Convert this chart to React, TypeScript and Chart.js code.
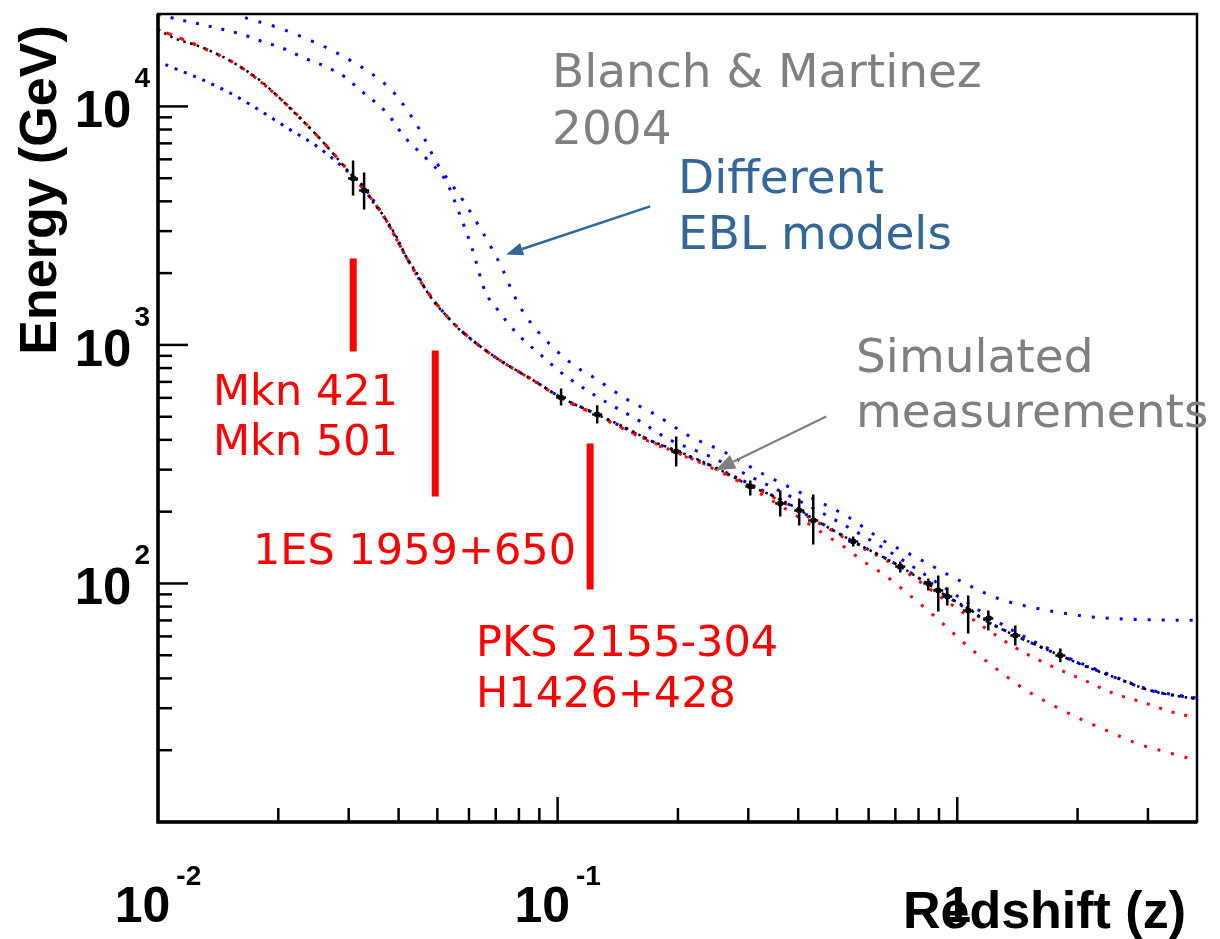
import React, { useEffect, useRef } from "react";
import { Chart, registerables } from "chart.js";

Chart.register(...registerables);

// ---------------- data ----------------
// main model curve (black dotted)
const mainZ = [0.0100, 0.0110, 0.0127, 0.0143, 0.0160, 0.0180, 0.0202, 0.0227, 0.0254, 0.0281, 0.0306, 0.0326, 0.0340, 0.0366, 0.0397, 0.0420, 0.0445, 0.0466, 0.0494, 0.0529, 0.0564, 0.0604, 0.0651, 0.0718, 0.0774, 0.0868, 0.102, 0.1256, 0.1493, 0.1704, 0.198, 0.2507, 0.3016, 0.3564, 0.4022, 0.4361, 0.549, 0.720, 0.841, 0.944, 1.065, 1.189, 1.397, 1.811, 2.068, 2.515, 3.041, 3.98];
const mainE = [21000, 19300, 17850, 16360, 14720, 12850, 10800, 8900, 7340, 6050, 5140, 4620, 4110, 3490, 2800, 2305, 1994, 1725, 1493, 1317, 1173, 1065, 967, 861, 797, 712, 602, 511, 447, 398, 361, 303.5, 257.6, 227, 204, 187, 150, 117.8, 100, 88.2, 78.6, 69.3, 60.5, 49.9, 45.3, 40.0, 35.6, 32.7];

// red model curves
const redAZ = [0.0100, 0.0127, 0.0160, 0.0202, 0.0254, 0.0306, 0.0366, 0.0420, 0.0466, 0.0529, 0.0604, 0.0718, 0.0868, 0.102, 0.1256, 0.1704, 0.2507, 0.3564, 0.4361, 0.549, 0.720, 0.944, 1.231, 1.381, 1.709, 2.115, 2.458, 2.871, 3.554, 3.98];
const redAE = [21000, 17850, 14720, 10800, 7340, 5140, 3490, 2305, 1725, 1317, 1065, 861, 712, 600, 508, 395, 300, 224, 185, 148, 115.6, 84.0, 61.7, 54.4, 45.3, 38.8, 34.6, 32.0, 28.5, 27.4];
const redBZ = [0.0100, 0.0127, 0.0160, 0.0202, 0.0254, 0.0306, 0.0366, 0.0420, 0.0466, 0.0529, 0.0604, 0.0718, 0.0868, 0.102, 0.1256, 0.1704, 0.2507, 0.3213, 0.4164, 0.454, 0.5154, 0.5818, 0.6604, 0.7943, 0.8911, 1.065, 1.259, 1.463, 1.739, 2.068, 2.458, 2.871, 3.355, 3.98];
const redBE = [21000, 17850, 14720, 10800, 7340, 5140, 3490, 2305, 1725, 1317, 1065, 861, 710, 598, 505, 392, 298, 238, 182, 165, 144, 124, 108, 84, 71.3, 54.4, 43.6, 36.3, 30.8, 26.7, 23.5, 21.1, 19.6, 18.1];

// blue model curves
const blueDZ = [0.0100, 0.01116, 0.01252, 0.01472, 0.01699, 0.02115, 0.0250, 0.02905, 0.0326, 0.0366, 0.0420, 0.0466, 0.0529, 0.0604, 0.0718, 0.0868, 0.102, 0.1256, 0.1704, 0.2507, 0.3564, 0.4361, 0.549, 0.720, 0.944, 1.189, 1.397, 1.811, 2.515, 3.041, 3.98];
const blueDE = [15440, 14290, 13230, 11670, 10200, 8088, 6795, 5550, 4620, 3490, 2305, 1725, 1317, 1065, 861, 712, 602, 511, 398, 303.5, 227, 187, 150, 117.8, 88.2, 69.3, 60.5, 49.9, 40.0, 35.6, 32.9];
const blue1Z = [0.0100, 0.01155, 0.01349, 0.01623, 0.01821, 0.02055, 0.02333, 0.02618, 0.02972, 0.03148, 0.03765, 0.04106, 0.04741, 0.0526, 0.05701, 0.06109, 0.06585, 0.06976, 0.07917, 0.09413, 0.0997, 0.1241, 0.1609, 0.1879, 0.2408, 0.3034, 0.4046, 0.5398, 0.7198, 0.9605, 1.281, 1.811, 2.515, 3.041, 3.98];
const blue1E = [24300, 22940, 21650, 20040, 18730, 17510, 15890, 14720, 13100, 12010, 9257, 7558, 5937, 4848, 3491, 2539, 1676, 1450, 1117, 861, 789, 614, 478, 405.5, 340.7, 281, 220.7, 170.1, 127.3, 92.6, 68.0, 50.5, 40.3, 35.8, 33.0];
const blue2Z = [0.01532, 0.01699, 0.01853, 0.02055, 0.02374, 0.02726, 0.03659, 0.03965, 0.04527, 0.04993, 0.0580, 0.06145, 0.06776, 0.07303, 0.07738, 0.08244, 0.09744, 0.1138, 0.122, 0.1476, 0.1754, 0.2146, 0.2596, 0.325, 0.3999, 0.5305, 0.6528, 0.7989, 0.9886, 1.266, 1.586, 2.115, 2.871, 3.98];
const blue2E = [24800, 23160, 22280, 21030, 19100, 17170, 12610, 11010, 7933, 5768, 4036, 3457, 2615, 2053, 1644, 1355, 976, 789, 738, 597, 511, 413, 357.6, 289, 243, 190.9, 151.4, 127.3, 105, 86.5, 78.6, 72.7, 70.6, 70.0];

// simulated measurements with error bars
const errZ = [0.03077, 0.03279, 0.102, 0.1256, 0.198, 0.3034, 0.3606, 0.4022, 0.4361, 0.549, 0.720, 0.8463, 0.8963, 0.9441, 1.065, 1.196, 1.397, 1.811];
const errE = [4990, 4444, 602, 511, 357.6, 255.1, 216.4, 202.4, 183.7, 150, 117.8, 100, 93.5, 88.2, 77.0, 71.3, 60.5, 49.9];
const errLo = [4233, 3699, 557.6, 468.7, 309.4, 233.9, 190.9, 175, 145.7, 142.9, 111.2, 93.5, 76.3, 80.9, 61.7, 63.5, 55.0, 46.7];
const errHi = [5937, 5289, 657, 558, 413, 270.3, 245.4, 227.2, 236, 157.4, 123.7, 105, 108, 96.2, 89.1, 77.0, 66.7, 53.4];

// source redshift markers (red bars)
const barZ = [0.0308, 0.0494, 0.1206];
const barLo = [939, 231.6, 94.4];
const barHi = [2305, 948, 386.4];

// arrows (tail -> head) in data units
const arrowTailZ = [0.1704, 0.470];
const arrowTailE = [3808, 501];
const arrowHeadZ = [0.0743, 0.2479];
const arrowHeadE = [2396, 297.7];

// axes
const X_MIN = 0.01;
const X_MAX = 3.98;
const Y_MIN = 10;
const Y_MAX = 24400;
const xTicks = [0.02, 0.03, 0.04, 0.05, 0.06, 0.07, 0.08, 0.09, 0.1, 0.2, 0.3, 0.4, 0.5, 0.6, 0.7, 0.8, 0.9, 1, 2, 3];
const xMajor = [0.01, 0.1];
const xMajorExp = ["-2", "-1"];
const yTicks = [20, 30, 40, 50, 60, 70, 80, 90, 100, 200, 300, 400, 500, 600, 700, 800, 900, 1000, 2000, 3000, 4000, 5000, 6000, 7000, 8000, 9000, 10000];
const yMajor = [100, 1000, 10000];
const yMajorExp = ["2", "3", "4"];

const GRAY = "#808080";
const BLUE_TXT = "#336699";
const RED = "#ff0000";
const AX_FONT = "'Liberation Sans', Arial, sans-serif";
const TXT_FONT = "'DejaVu Sans', Verdana, sans-serif";

const textBlocks = [
  { lines: ["Blanch & Martinez", "2004"], x: 552, y: 87, color: GRAY, size: 47, lh: 57 },
  { lines: ["Different", "EBL models"], x: 678, y: 193, color: BLUE_TXT, size: 47, lh: 56 },
  { lines: ["Simulated", "measurements"], x: 856, y: 372, color: GRAY, size: 47, lh: 55 },
  { lines: ["Mkn 421", "Mkn 501"], x: 213, y: 405, color: RED, size: 43, lh: 50 },
  { lines: ["1ES 1959+650"], x: 253, y: 564, color: RED, size: 43, lh: 50 },
  { lines: ["PKS 2155-304", "H1426+428"], x: 476, y: 656, color: RED, size: 43, lh: 51 },
];

const pts = (xs: number[], ys: number[]) => xs.map((x, i) => ({ x, y: ys[i] }));

function drawArrow(ctx: CanvasRenderingContext2D, x1: number, y1: number, x2: number, y2: number, color: string, lw: number, hl: number, hw: number) {
  const ang = Math.atan2(y2 - y1, x2 - x1);
  const bx = x2 - hl * Math.cos(ang);
  const by = y2 - hl * Math.sin(ang);
  ctx.strokeStyle = color;
  ctx.fillStyle = color;
  ctx.lineWidth = lw;
  ctx.beginPath();
  ctx.moveTo(x1, y1);
  ctx.lineTo(bx, by);
  ctx.stroke();
  ctx.beginPath();
  ctx.moveTo(x2, y2);
  ctx.lineTo(bx + (hw / 2) * Math.sin(ang), by - (hw / 2) * Math.cos(ang));
  ctx.lineTo(bx - (hw / 2) * Math.sin(ang), by + (hw / 2) * Math.cos(ang));
  ctx.closePath();
  ctx.fill();
}

const errorBarPlugin = {
  id: "errorBars",
  afterDatasetsDraw(chart: any) {
    const { ctx, scales } = chart;
    const xs = scales.x;
    const ys = scales.y;
    ctx.save();
    ctx.strokeStyle = "#000";
    ctx.fillStyle = "#000";
    ctx.lineWidth = 2.5;
    for (let i = 0; i < errZ.length; i++) {
      const px = xs.getPixelForValue(errZ[i]);
      const py = ys.getPixelForValue(errE[i]);
      const pLo = ys.getPixelForValue(errLo[i]);
      const pHi = ys.getPixelForValue(errHi[i]);
      ctx.beginPath();
      ctx.moveTo(px, pHi);
      ctx.lineTo(px, pLo);
      ctx.moveTo(px - 5, py);
      ctx.lineTo(px + 5, py);
      ctx.stroke();
      ctx.fillRect(px - 2.5, py - 2.5, 5, 5);
    }
    ctx.restore();
  },
};

const decorPlugin = {
  id: "decor",
  afterDraw(chart: any) {
    const { ctx, chartArea: ca, scales } = chart;
    const xs = scales.x;
    const ys = scales.y;
    ctx.save();

    // red source bars
    ctx.strokeStyle = RED;
    ctx.lineWidth = 7;
    for (let i = 0; i < barZ.length; i++) {
      const px = xs.getPixelForValue(barZ[i]);
      ctx.beginPath();
      ctx.moveTo(px, ys.getPixelForValue(barHi[i]));
      ctx.lineTo(px, ys.getPixelForValue(barLo[i]));
      ctx.stroke();
    }

    // arrows
    drawArrow(ctx, xs.getPixelForValue(arrowTailZ[0]), ys.getPixelForValue(arrowTailE[0]), xs.getPixelForValue(arrowHeadZ[0]), ys.getPixelForValue(arrowHeadE[0]), BLUE_TXT, 2.5, 17, 13);
    drawArrow(ctx, xs.getPixelForValue(arrowTailZ[1]), ys.getPixelForValue(arrowTailE[1]), xs.getPixelForValue(arrowHeadZ[1]), ys.getPixelForValue(arrowHeadE[1]), GRAY, 2.2, 20, 15);

    // frame
    ctx.strokeStyle = "#000";
    ctx.lineWidth = 2.5;
    ctx.strokeRect(ca.left, ca.top, ca.right - ca.left, ca.bottom - ca.top);
    ctx.lineWidth = 3.5;
    ctx.beginPath();
    ctx.moveTo(ca.left, ca.top);
    ctx.lineTo(ca.left, ca.bottom);
    ctx.lineTo(ca.right, ca.bottom);
    ctx.stroke();

    // y ticks
    ctx.lineWidth = 2.5;
    for (const v of yTicks) {
      const py = ys.getPixelForValue(v);
      const major = yMajor.includes(v);
      ctx.beginPath();
      ctx.moveTo(ca.left, py);
      ctx.lineTo(ca.left + (major ? 30 : 14), py);
      ctx.stroke();
    }
    // x ticks
    for (const v of xTicks) {
      const px = xs.getPixelForValue(v);
      const major = v === 0.1 || v === 1;
      ctx.beginPath();
      ctx.moveTo(px, ca.bottom);
      ctx.lineTo(px, ca.bottom - (major ? 25 : 14));
      ctx.stroke();
    }

    // y labels
    ctx.fillStyle = "#000";
    ctx.textBaseline = "alphabetic";
    for (let i = 0; i < yMajor.length; i++) {
      const py = ys.getPixelForValue(yMajor[i]);
      ctx.font = `bold 28px ${AX_FONT}`;
      ctx.textAlign = "right";
      const sw = ctx.measureText(yMajorExp[i]).width;
      ctx.fillText(yMajorExp[i], ca.left - 8, py - 19);
      ctx.font = `bold 51px ${AX_FONT}`;
      ctx.fillText("10", ca.left - 8 - sw - 3, py + 21);
    }
    // x labels
    for (let i = 0; i < xMajor.length; i++) {
      const px = xs.getPixelForValue(xMajor[i]);
      ctx.font = `bold 50px ${AX_FONT}`;
      ctx.textAlign = "left";
      const bw = ctx.measureText("10").width;
      ctx.font = `bold 28px ${AX_FONT}`;
      const ew = ctx.measureText(xMajorExp[i]).width;
      const start = px - (bw + 6 + ew) / 2;
      ctx.fillText(xMajorExp[i], start + bw + 6, 885);
      ctx.font = `bold 50px ${AX_FONT}`;
      ctx.fillText("10", start, 922);
    }
    ctx.font = `bold 50px ${AX_FONT}`;
    ctx.textAlign = "center";
    ctx.fillText("1", xs.getPixelForValue(1), 922);

    // axis titles
    ctx.font = `bold 52px ${AX_FONT}`;
    ctx.textAlign = "right";
    ctx.fillText("Redshift (z)", 1186, 928);
    ctx.save();
    ctx.translate(56, 190);
    ctx.rotate(-Math.PI / 2);
    ctx.textAlign = "center";
    ctx.fillText("Energy (GeV)", 0, 0);
    ctx.restore();

    // annotation texts
    ctx.textAlign = "left";
    for (const b of textBlocks) {
      ctx.font = `${b.size}px ${TXT_FONT}`;
      ctx.fillStyle = b.color;
      b.lines.forEach((l, k) => ctx.fillText(l, b.x, b.y + k * b.lh));
    }
    ctx.restore();
  },
};

export default function App() {
  const ref = useRef<HTMLCanvasElement | null>(null);
  useEffect(() => {
    if (!ref.current) return;
    const line = (data: any[], color: string, width: number, dash: number[], order: number, offset = 0) => ({
      data,
      showLine: true,
      borderColor: color,
      borderWidth: width,
      borderDash: dash,
      borderDashOffset: offset,
      pointRadius: 0,
      fill: false,
      cubicInterpolationMode: "monotone",
      order,
    });
    const chart = new Chart(ref.current, {
      type: "scatter",
      data: {
        datasets: [
          line(pts(blue2Z, blue2E), "#0000ff", 3, [3, 11], 7),
          line(pts(blue1Z, blue1E), "#0000ff", 3, [3, 10], 6),
          line(pts(blueDZ, blueDE), "#0000ff", 3, [3, 7], 5, 2),
          line(pts(redBZ, redBE), "#ff0000", 3, [3, 11], 4, 5),
          line(pts(redAZ, redAE), "#ff0000", 3, [3, 10], 3, 1),
          line(pts(mainZ, mainE), "#000000", 2.5, [2.5, 4.5], 2),
          { data: pts(errZ, errE), pointRadius: 0, showLine: false, order: 1 },
        ] as any,
      },
      options: {
        animation: false,
        responsive: false,
        devicePixelRatio: 1,
        layout: { padding: { left: 158, right: 23, top: 14, bottom: 117 } },
        plugins: { legend: { display: false }, tooltip: { enabled: false } },
        scales: {
          x: { type: "logarithmic", min: X_MIN, max: X_MAX, display: false, bounds: "data" },
          y: { type: "logarithmic", min: Y_MIN, max: Y_MAX, display: false, bounds: "data" },
        },
      } as any,
      plugins: [errorBarPlugin, decorPlugin],
    });
    return () => chart.destroy();
  }, []);
  return (
    <div style={{ position: "absolute", left: 0, top: 0, width: 1220, height: 939, background: "#fff" }}>
      <canvas ref={ref} width={1220} height={939} style={{ display: "block", width: 1220, height: 939 }} />
    </div>
  );
}
